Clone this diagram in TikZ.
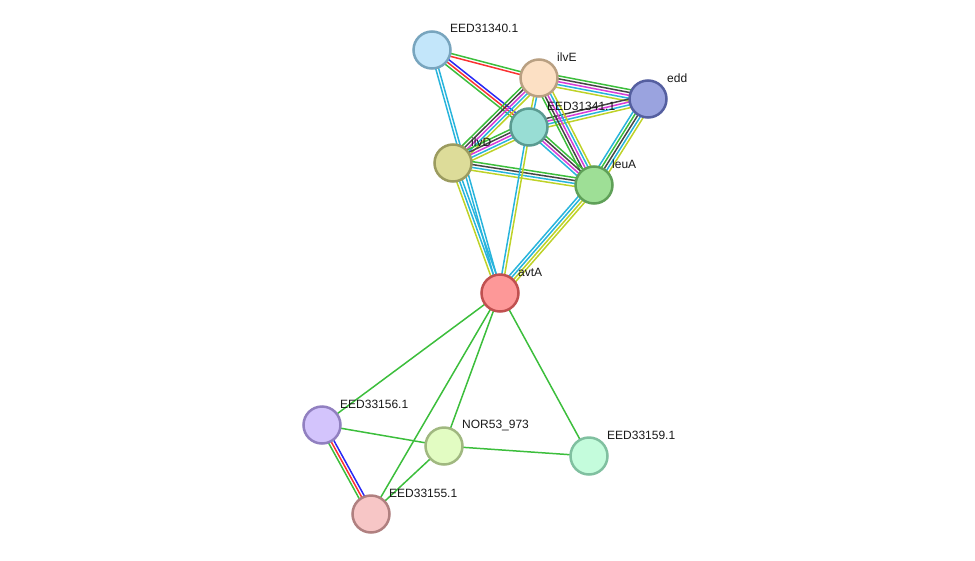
\documentclass[tikz,border=0pt]{standalone}
\usepackage{fontspec}
\setmainfont{Liberation Sans}
\usetikzlibrary{calc,backgrounds}
\definecolor{cgreen}{RGB}{60,190,60}
\definecolor{cred}{RGB}{250,50,50}
\definecolor{cblue}{RGB}{40,40,245}
\definecolor{cblack}{RGB}{70,70,70}
\definecolor{cmag}{RGB}{215,60,215}
\definecolor{ccyan}{RGB}{40,180,220}
\definecolor{cyg}{RGB}{190,210,40}
\newcommand\sedge[4]{%
  \foreach \cc [count=\ii] in {#4} {%
    \pgfmathsetmacro\off{((#3+1)/2-\ii)*2.9}%
    \draw[\cc, line width=1.5pt] ($(#1.center)!\off pt!90:(#2.center)$) -- ($(#2.center)!\off pt!-90:(#1.center)$);
  }%
}
\tikzset{
  prot/.style={circle, minimum size=37pt, inner sep=0pt, line width=2.5pt},
  lbl/.style={anchor=west, font=\fontsize{12}{14}\selectfont, inner sep=0pt, text=black!90},
}
\begin{document}
\begin{tikzpicture}[x=1pt,y=-1pt]
\useasboundingbox (0,0) rectangle (975,560);
% nodes
\node[prot, fill={rgb,255:red,195;green,230;blue,250}, draw={rgb,255:red,120;green,165;blue,190}] (n31340) at (432,50) {};
\node[prot, fill={rgb,255:red,252;green,224;blue,196}, draw={rgb,255:red,185;green,160;blue,130}] (ilvE) at (539,78) {};
\node[prot, fill={rgb,255:red,154;green,163;blue,223}, draw={rgb,255:red,85;green,95;blue,160}] (edd) at (648,99) {};
\node[prot, fill={rgb,255:red,152;green,221;blue,212}, draw={rgb,255:red,90;green,155;blue,145}] (n31341) at (529,127) {};
\node[prot, fill={rgb,255:red,221;green,220;blue,153}, draw={rgb,255:red,155;green,155;blue,95}] (ilvD) at (453,163) {};
\node[prot, fill={rgb,255:red,158;green,223;blue,150}, draw={rgb,255:red,95;green,160;blue,88}] (leuA) at (594,185) {};
\node[prot, fill={rgb,255:red,253;green,152;blue,152}, draw={rgb,255:red,192;green,80;blue,80}] (avtA) at (500,293) {};
\node[prot, fill={rgb,255:red,211;green,196;blue,252}, draw={rgb,255:red,145;green,128;blue,192}] (n33156) at (322,425) {};
\node[prot, fill={rgb,255:red,226;green,252;blue,194}, draw={rgb,255:red,160;green,184;blue,128}] (nor) at (444,446) {};
\node[prot, fill={rgb,255:red,196;green,252;blue,220}, draw={rgb,255:red,128;green,192;blue,160}] (n33159) at (589,456) {};
\node[prot, fill={rgb,255:red,247;green,198;blue,198}, draw={rgb,255:red,176;green,128;blue,128}] (n33155) at (371,514) {};
% labels
\node[lbl] (l31340) at (450,28) {EED31340.1};
\node[lbl] (lilvE) at (557,57) {ilvE};
\node[lbl] (ledd) at (667,78) {edd};
\node[lbl] (l31341) at (547,106) {EED31341.1};
\node[lbl] (lilvD) at (471,142) {ilvD};
\node[lbl] (lleuA) at (612,164) {leuA};
\node[lbl] (lavtA) at (518,272) {avtA};
\node[lbl] (l33156) at (340,404) {EED33156.1};
\node[lbl] (lnor) at (462,425) {NOR53\_973};
\node[lbl] (l33159) at (607,435) {EED33159.1};
\node[lbl] (l33155) at (389,493) {EED33155.1};
% edges
\begin{scope}[on background layer]
\sedge{n31340}{ilvE}{2}{cgreen,cred}
\sedge{n31340}{n31341}{3}{cblue,cred,cgreen}
\sedge{n31340}{avtA}{2}{ccyan,ccyan}
\sedge{ilvE}{edd}{5}{cgreen,cblack,cmag,ccyan,cyg}
\sedge{ilvE}{n31341}{2}{ccyan,cyg}
\sedge{ilvE}{ilvD}{5}{cyg,ccyan,cmag,cblack,cgreen}
\sedge{n31341}{ilvD}{5}{cyg,ccyan,cmag,cblack,cgreen}
\sedge{n31341}{edd}{4}{cblack,cmag,ccyan,cyg}
\sedge{ilvE}{leuA}{5}{cyg,ccyan,cmag,cblack,cgreen}
\sedge{n31341}{leuA}{4}{cgreen,cblack,cmag,ccyan}
\sedge{ilvD}{leuA}{4}{cgreen,cblack,ccyan,cyg}
\sedge{edd}{leuA}{5}{cyg,ccyan,cblack,cgreen,ccyan}
\sedge{leuA}{avtA}{4}{cyg,cyg,ccyan,ccyan}
\sedge{n31341}{avtA}{2}{cyg,ccyan}
\sedge{ilvD}{avtA}{3}{ccyan,ccyan,cyg}
\sedge{avtA}{n33156}{1}{cgreen}
\sedge{avtA}{nor}{1}{cgreen}
\sedge{avtA}{n33155}{1}{cgreen}
\sedge{avtA}{n33159}{1}{cgreen}
\sedge{n33156}{nor}{1}{cgreen}
\sedge{nor}{n33159}{1}{cgreen}
\sedge{nor}{n33155}{1}{cgreen}
\sedge{n33156}{n33155}{3}{cblue,cred,cgreen}
\end{scope}
\end{tikzpicture}
\end{document}
